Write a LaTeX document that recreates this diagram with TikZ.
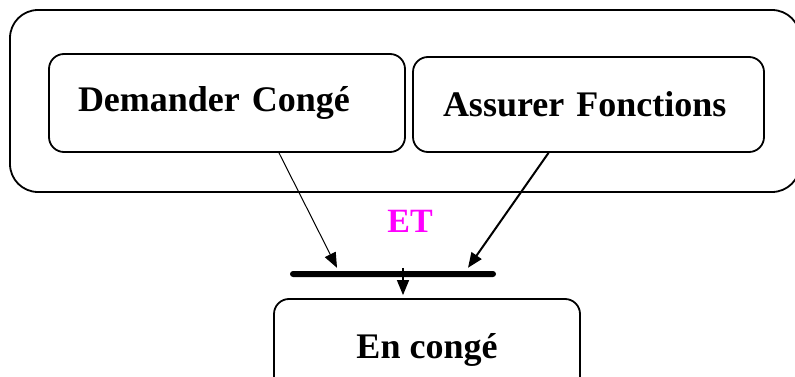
\documentclass[tikz,border=0pt]{standalone}
\usepackage{fontspec}
\setmainfont{Liberation Serif}
\usetikzlibrary{arrows.meta}
\definecolor{etc}{RGB}{255,0,255}
\tikzset{
  grp/.style={rectangle,rounded corners=28pt,draw=black,line width=1.8pt,inner sep=0pt},
  tn/.style={rectangle,rounded corners=15pt,draw=black,line width=1.8pt,inner sep=0pt,
    font=\fontsize{36}{40}\selectfont\bfseries},
  barn/.style={rectangle,rounded corners=3pt,fill=black,inner sep=0pt,
    minimum width=206pt,minimum height=6pt},
  etn/.style={text=etc,font=\fontsize{34}{38}\selectfont\bfseries,inner sep=0pt},
  arr/.style={-{Triangle[length=15pt,width=12pt]},color=black},
}
\begin{document}
\begin{tikzpicture}[x=1pt,y=-1pt]
        \clip (0,0) rectangle (795,377);
        \node[grp,minimum width=790pt,minimum height=182pt] (grp) at (405,101) {};
        \node[tn,minimum width=356pt,minimum height=98pt,text width=298pt,align=left] (dem) at (227,103) {Demander Congé};
        \node[tn,minimum width=351pt,minimum height=95pt,text width=291pt,align=left] (ass) at (588.5,104.5) {Assurer Fonctions};
        \node[etn,anchor=base] (et) at (410,232) {ET};
        \node[barn] (bar) at (393,274) {};
        \node[tn,minimum width=306pt,minimum height=94pt,text depth=0pt] (enc) at (427,346) {En congé};
        \draw[arr,line width=1pt] ([xshift=52pt]dem.south) -- ([xshift=-56pt,yshift=3pt]bar.north);
        \draw[arr,line width=2pt] ([xshift=-40pt]ass.south) -- ([xshift=75pt,yshift=3pt]bar.north);
        \draw[arr,line width=1.3pt] ([xshift=10pt,yshift=3pt]bar.north) -- ([xshift=10pt,yshift=3pt]bar.north |- enc.north);
      \end{tikzpicture}
\end{document}
